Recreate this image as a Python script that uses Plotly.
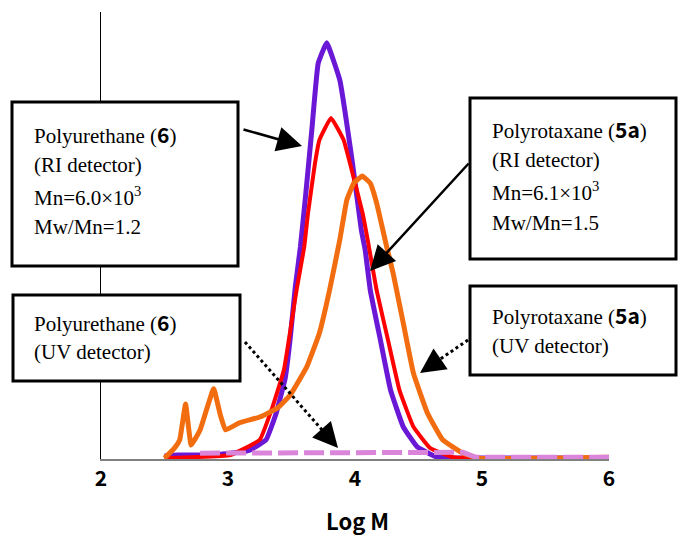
import plotly.graph_objects as go

# ---------------- data ----------------
purple_x = [2.50, 2.60, 2.78, 2.95, 3.02, 3.17, 3.30, 3.38, 3.45, 3.49, 3.53, 3.57, 3.61, 3.66, 3.71, 3.777,
            3.88, 3.98, 4.05, 4.08, 4.12, 4.20, 4.28, 4.38, 4.49, 4.65, 4.91, 6.00]
purple_y = [0.7, 0.9, 0.9, 1.1, 1.3, 2.0, 4.3, 10.3, 18.0, 27.0, 38.5, 47.4, 58.6, 73.6, 88.5, 93.1,
            84.8, 66.2, 51.2, 46.8, 37.8, 26.6, 15.4, 7.2, 2.7, 0.4, 0.2, 0.2]

red_x = [2.50, 3.02, 3.25, 3.35, 3.44, 3.54, 3.60, 3.63, 3.685, 3.72, 3.811,
         3.91, 3.96, 4.06, 4.10, 4.17, 4.26, 4.35, 4.46, 4.59, 4.77, 6.00]
red_y = [0.2, 0.9, 4.3, 11.6, 19.9, 37.8, 47.4, 55.0, 66.2, 71.4, 76.3,
         71.4, 66.2, 55.0, 49.0, 37.8, 26.6, 15.4, 7.2, 2.5, 0.4, 0.2]

orange_x = [2.50, 2.58, 2.62, 2.666, 2.71, 2.78, 2.887, 2.94, 2.98, 3.09, 3.25, 3.39, 3.49, 3.62, 3.72,
            3.80, 3.88, 3.935, 3.99, 4.057, 4.12, 4.17, 4.25, 4.30, 4.38, 4.46, 4.57, 4.69, 4.85, 4.98, 6.00]
orange_y = [0.2, 2.5, 4.3, 12.3, 3.1, 6.5, 15.7, 9.8, 6.5, 8.1, 9.4, 11.4, 14.3, 20.6, 28.2,
            37.8, 49.0, 57.9, 61.7, 63.3, 61.7, 57.3, 47.4, 41.6, 30.4, 19.2, 10.3, 4.3, 1.3, 0.2, 0.4]

pink_x = [2.78, 3.00, 3.50, 4.00, 4.50, 4.85, 4.95, 6.00]
pink_y = [1.3, 1.3, 1.3, 1.3, 1.4, 1.5, 0.4, 0.4]

x_ticks = [2, 3, 4, 5, 6]
x_title = "Log M"

# ---------------- layout helpers ----------------
W, H = 678, 536
L, R, T, B = 101, 69, 12, 77
PW, PH = W - L - R, H - T - B


def px(x):
    return (x - L) / PW


def py(y):
    return (T + PH - y) / PH


SERIF = "Liberation Serif, Times New Roman, DejaVu Serif, serif"
GOTH = "Noto Sans CJK JP"


def bold_goth(s):
    return f"<b><span style='font-family:{GOTH}'>{s}</span></b>"


fig = go.Figure()

fig.add_trace(go.Scatter(x=purple_x, y=purple_y, mode="lines",
                         line=dict(color="#6A17D6", width=5, shape="spline", smoothing=0.3),
                         hoverinfo="skip"))
fig.add_trace(go.Scatter(x=red_x, y=red_y, mode="lines",
                         line=dict(color="#FF0000", width=4, shape="spline", smoothing=0.3),
                         hoverinfo="skip"))
fig.add_trace(go.Scatter(x=orange_x, y=orange_y, mode="lines",
                         line=dict(color="#F26D10", width=5, shape="spline", smoothing=0.3),
                         hoverinfo="skip"))
fig.add_trace(go.Scatter(x=pink_x, y=pink_y, mode="lines",
                         line=dict(color="#DA85DA", width=5, dash="20px,6px"),
                         hoverinfo="skip"))

shapes = []
annotations = []


def box(x0, y0, x1, y1):
    shapes.append(dict(type="rect", xref="paper", yref="paper",
                       x0=px(x0), x1=px(x1), y0=py(y1), y1=py(y0),
                       line=dict(color="black", width=3), fillcolor="white", layer="above"))


def text(x, y, s, size=21):
    annotations.append(dict(xref="paper", yref="paper", x=px(x), y=py(y), text=s,
                            showarrow=False, xanchor="left", yanchor="middle",
                            font=dict(family=SERIF, size=size, color="black")))


# Box 1
box(12, 102, 238, 266)
text(32, 134, "Polyurethane (" + bold_goth("6") + ")")
text(32, 165, "(RI detector)")
text(32, 196, "Mn=6.0×10<sup>3</sup>")
text(32, 227, "Mw/Mn=1.2")
# Box 2
box(470, 98, 676, 259)
text(490, 129, "Polyrotaxane (" + bold_goth("5a") + ")")
text(490, 160, "(RI detector)")
text(490, 191, "Mn=6.1×10<sup>3</sup>")
text(490, 223, "Mw/Mn=1.5")
# Box 3
box(13, 295, 240, 381)
text(32, 322, "Polyurethane (" + bold_goth("6") + ")")
text(32, 352, "(UV detector)")
# Box 4
box(470, 286, 676, 375)
text(490, 315, "Polyrotaxane (" + bold_goth("5a") + ")")
text(490, 346, "(UV detector)")

# Solid arrows
for (tx, ty, sx, sy) in [(302, 146, 242, 129), (370, 271, 470, 162)]:
    annotations.append(dict(xref="paper", yref="paper", x=px(tx), y=py(ty), text="",
                            showarrow=True, ax=sx - tx, ay=sy - ty,
                            arrowhead=2, arrowsize=2, arrowwidth=2.5, arrowcolor="black",
                            standoff=0))

# Dotted arrows
for (sx, sy, tx, ty) in [(245, 342, 338, 448), (468, 340, 420, 373)]:
    dx, dy = tx - sx, ty - sy
    n = (dx * dx + dy * dy) ** 0.5
    ex, ey = tx - dx / n * 10, ty - dy / n * 10
    shapes.append(dict(type="line", xref="paper", yref="paper",
                       x0=px(sx), y0=py(sy), x1=px(ex), y1=py(ey),
                       line=dict(color="black", width=3, dash="dot"), layer="above"))
    annotations.append(dict(xref="paper", yref="paper", x=px(tx), y=py(ty), text="",
                            showarrow=True, ax=-dx / n * 16, ay=-dy / n * 16,
                            arrowhead=2, arrowsize=2, arrowwidth=2.5, arrowcolor="black",
                            standoff=0))

# Axis title
annotations.append(dict(xref="paper", yref="paper", x=px(357), y=py(520), text=x_title,
                        showarrow=False, xanchor="center", yanchor="middle",
                        font=dict(family=GOTH, size=22, color="black", weight="bold")))

fig.update_layout(
    width=W, height=H,
    margin=dict(l=L, r=R, t=T, b=B, pad=0),
    paper_bgcolor="white", plot_bgcolor="white",
    showlegend=False,
    shapes=shapes, annotations=annotations,
    xaxis=dict(range=[2, 6], tickvals=x_ticks, ticktext=[str(v) for v in x_ticks],
               showgrid=False, zeroline=False, showline=True, linecolor="#808080", linewidth=2,
               ticks="", tickfont=dict(family=GOTH, size=21, color="black", weight="bold"),
               fixedrange=True),
    yaxis=dict(range=[0, 100], showgrid=False, zeroline=False, showline=True,
               linecolor="black", linewidth=1, showticklabels=False, ticks="", fixedrange=True),
)

fig.write_html("out.html", config={"displayModeBar": False},
               post_script="document.body.style.margin='0';document.body.style.padding='0';")
